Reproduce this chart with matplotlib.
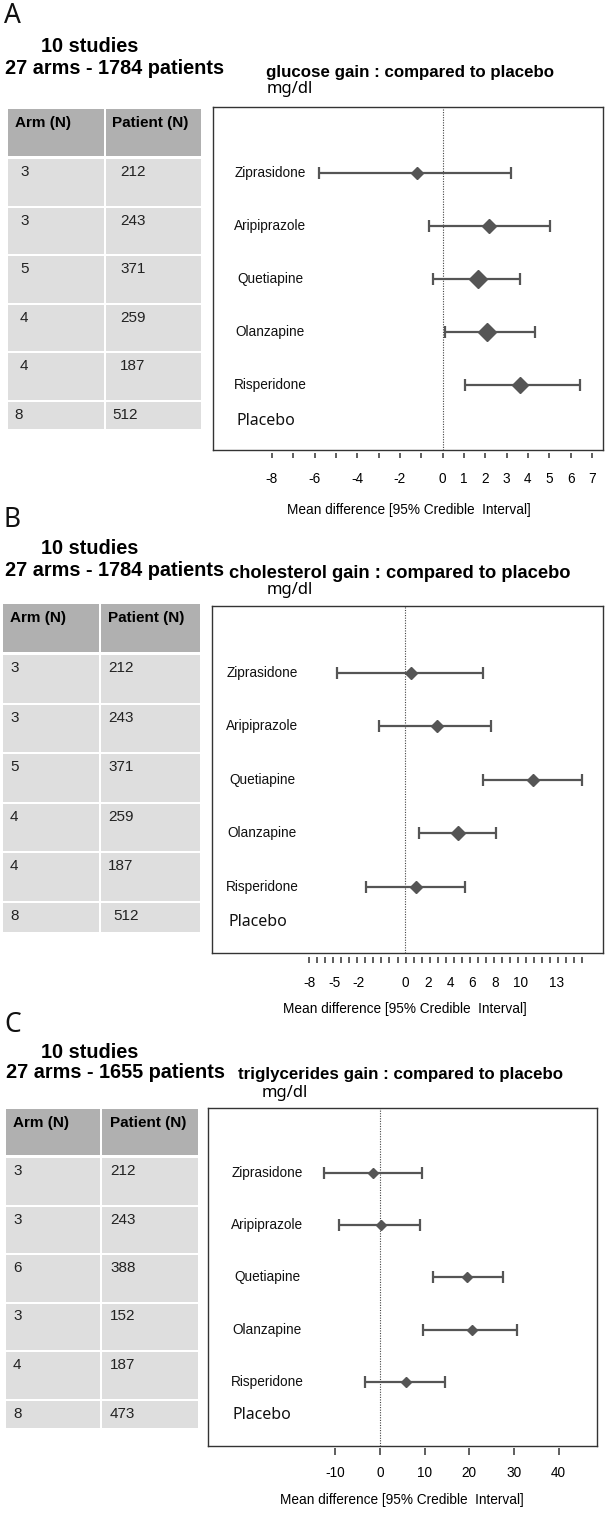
import matplotlib
matplotlib.use("Agg")
import matplotlib.pyplot as plt
import matplotlib.transforms as mtransforms
from matplotlib.patches import Rectangle
import numpy as np

plt.rcParams['font.family'] = ['Liberation Sans', 'DejaVu Sans']

# ---------------- data ----------------
drugs = ["Ziprasidone", "Aripiprazole", "Quetiapine", "Olanzapine", "Risperidone"]
reference = "Placebo"
table_headers = ["Arm (N)", "Patient (N)"]
xlabel_text = "Mean difference [95% Credible  Interval]"
unit_text = "mg/dl"

# Panel A : glucose
glucose_mean = [-1.2, 2.2, 1.65, 2.1, 3.65]
glucose_lo = [-5.8, -0.65, -0.45, 0.12, 1.05]
glucose_hi = [3.2, 5.05, 3.65, 4.35, 6.45]
glucose_arms = [3, 3, 5, 4, 4, 8]
glucose_patients = [212, 243, 371, 259, 187, 512]
glucose_studies = "10 studies"
glucose_summary = "27 arms - 1784 patients"
glucose_title = "glucose gain : compared to placebo"
glucose_ticklabels = ["-8", "-6", "-4", "-2", "0", "1", "2", "3", "4", "5", "6", "7"]
glucose_tickvals = [-8, -6, -4, -2, 0, 1, 2, 3, 4, 5, 6, 7]

# Panel B : cholesterol
chol_mean = [0.45, 2.85, 11.4, 4.7, 0.95]
chol_lo = [-6.1, -2.35, 6.95, 1.25, -3.5]
chol_hi = [6.95, 7.7, 15.8, 8.1, 5.3]
chol_arms = [3, 3, 5, 4, 4, 8]
chol_patients = [212, 243, 371, 259, 187, 512]
chol_studies = "10 studies"
chol_summary = "27 arms - 1784 patients"
chol_title = "cholesterol gain : compared to placebo"
chol_ticklabels = ["-8", "-5", "-2", "0", "2", "4", "6", "8", "10", "13"]
chol_tickvals = [-8.64, -6.4, -4.18, 0, 2, 4, 6, 8, 10.3, 13.5]

# Panel C : triglycerides
trig_mean = [-1.5, 0.15, 19.6, 20.6, 5.8]
trig_lo = [-12.5, -9.1, 11.9, 9.7, -3.4]
trig_hi = [9.4, 8.95, 27.5, 30.7, 14.5]
trig_arms = [3, 3, 6, 3, 4, 8]
trig_patients = [212, 243, 388, 152, 187, 473]
trig_studies = "10 studies"
trig_summary = "27 arms - 1655 patients"
trig_title = "triglycerides gain : compared to placebo"
trig_ticklabels = ["-10", "0", "10", "20", "30", "40"]
trig_tickvals = [-10, 0, 10, 20, 30, 40]

# ---------------- layout / style ----------------
W, H = 605, 1515
DARK = "#555555"
HEAD_COL = "#b0b0b0"
CELL_COL = "#dedede"

panels = [
    dict(letter="A", mean=glucose_mean, lo=glucose_lo, hi=glucose_hi,
         arms=glucose_arms, patients=glucose_patients,
         studies=glucose_studies, summary=glucose_summary, title=glucose_title,
         tickvals=glucose_tickvals, ticklabels=glucose_ticklabels,
         minor=np.arange(-8, 8), xlim=(-10.76, 7.52),
         box=(213, 107, 603, 450), ms=[5.9, 7.6, 8.8, 8.8, 7.8],
         lab_x=0.146, plac_x=0.059, plac_y=5.68, title_fs=12.2,
         tick_off=3, tick_len=5, tick_pad=10,
         letter_xy=(4, 16), studies_xy=(90, 47), summary_xy=(115, 68),
         title_xy=(410, 73), unit_xy=(290, 89), xlabel_xy=(409, 510),
         tab=dict(left=8, split=105, right=201, htop=109, hbot=156, r0=159,
                  pitch=48.6, rh=46.5, lasth=27, ins=(12, 15), last_ins=(6, 7),
                  hins=(7, 7))),
    dict(letter="B", mean=chol_mean, lo=chol_lo, hi=chol_hi,
         arms=chol_arms, patients=chol_patients,
         studies=chol_studies, summary=chol_summary, title=chol_title,
         tickvals=chol_tickvals, ticklabels=chol_ticklabels,
         minor=np.linspace(-8.64, 15.86, 35), xlim=(-17.34, 17.70),
         box=(212, 606, 603, 953), ms=[6.0, 6.0, 6.6, 7.1, 6.0],
         lab_x=0.128, plac_x=0.041, plac_y=5.65, title_fs=13.2,
         tick_off=4, tick_len=6, tick_pad=9,
         letter_xy=(4, 520), studies_xy=(90, 549), summary_xy=(115, 570),
         title_xy=(400, 573), unit_xy=(290, 590), xlabel_xy=(405, 1009),
         tab=dict(left=3, split=100, right=200, htop=604, hbot=652, r0=655,
                  pitch=49.6, rh=47.5, lasth=29, ins=(7, 8), last_ins=(7, 13),
                  hins=(7, 8))),
    dict(letter="C", mean=trig_mean, lo=trig_lo, hi=trig_hi,
         arms=trig_arms, patients=trig_patients,
         studies=trig_studies, summary=trig_summary, title=trig_title,
         tickvals=trig_tickvals, ticklabels=trig_ticklabels,
         minor=None, xlim=(-38.5, 48.6),
         box=(208, 1108, 597, 1446), ms=[5.2, 5.2, 5.2, 5.2, 5.2],
         lab_x=0.152, plac_x=0.063, plac_y=5.63, title_fs=12.2,
         tick_off=2, tick_len=7, tick_pad=8,
         letter_xy=(4, 1025), studies_xy=(90, 1053), summary_xy=(115, 1073),
         title_xy=(401, 1075), unit_xy=(285, 1093), xlabel_xy=(402, 1500),
         tab=dict(left=6, split=101, right=198, htop=1109, hbot=1155, r0=1158,
                  pitch=48.5, rh=46.5, lasth=27, ins=(7, 9), last_ins=(7, 9),
                  hins=(7, 9))),
]

fig = plt.figure(figsize=(W / 100, H / 100), dpi=100)
fig.patch.set_facecolor("white")

# overlay axes in pixel coordinates for tables and free text
ov = fig.add_axes([0, 0, 1, 1])
ov.set_xlim(0, W)
ov.set_ylim(H, 0)
ov.axis("off")

PX2PT = 72 / 100.0

for p in panels:
    # ---------- header texts ----------
    ov.text(*p["letter_xy"], p["letter"], fontsize=19, family=["Noto Sans", "DejaVu Sans"],
            ha="left", va="center", color="#111111")
    ov.text(*p["studies_xy"], p["studies"], fontsize=14.3, fontweight="bold",
            ha="center", va="center")
    ov.text(*p["summary_xy"], p["summary"], fontsize=14.3, fontweight="bold",
            ha="center", va="center")
    ov.text(*p["title_xy"], p["title"], fontsize=p["title_fs"], fontweight="bold",
            ha="center", va="center")
    ov.text(*p["unit_xy"], unit_text, fontsize=12, family=["Noto Sans", "DejaVu Sans"],
            ha="center", va="center")
    ov.text(*p["xlabel_xy"], xlabel_text, fontsize=9.8, ha="center", va="center")

    # ---------- table ----------
    t = p["tab"]
    gap = 1.5
    ov.add_patch(Rectangle((t["left"], t["htop"]), t["split"] - t["left"] - gap / 2,
                           t["hbot"] - t["htop"], facecolor=HEAD_COL, edgecolor="none"))
    ov.add_patch(Rectangle((t["split"] + gap / 2, t["htop"]), t["right"] - t["split"] - gap / 2,
                           t["hbot"] - t["htop"], facecolor=HEAD_COL, edgecolor="none"))
    ov.text(t["left"] + t["hins"][0], t["htop"] + 14, table_headers[0], fontsize=11,
            fontweight="bold", ha="left", va="center")
    ov.text(t["split"] + t["hins"][1], t["htop"] + 14, table_headers[1], fontsize=11,
            fontweight="bold", ha="left", va="center")
    nrows = len(p["arms"])
    for r in range(nrows):
        top = t["r0"] + r * t["pitch"]
        last = (r == nrows - 1)
        h = t["lasth"] if last else t["rh"]
        ins = t["last_ins"] if last else t["ins"]
        ov.add_patch(Rectangle((t["left"], top), t["split"] - t["left"] - gap / 2, h,
                               facecolor=CELL_COL, edgecolor="none"))
        ov.add_patch(Rectangle((t["split"] + gap / 2, top), t["right"] - t["split"] - gap / 2, h,
                               facecolor=CELL_COL, edgecolor="none"))
        ov.text(t["left"] + ins[0], top + 13, str(p["arms"][r]), fontsize=11,
                ha="left", va="center", color="#222222")
        ov.text(t["split"] + ins[1], top + 13, str(p["patients"][r]), fontsize=11,
                ha="left", va="center", color="#222222")

    # ---------- forest axes ----------
    x0, y0, x1, y1 = p["box"]
    ax = fig.add_axes([x0 / W, 1 - y1 / H, (x1 - x0) / W, (y1 - y0) / H])
    ax.set_facecolor("none")
    ax.set_xlim(*p["xlim"])
    ax.set_ylim(6.23, -0.245)
    for s in ax.spines.values():
        s.set_color("#333333")
        s.set_linewidth(1.0)
    ax.set_xticks([])
    ax.set_yticks([])

    ax.axvline(0, color="#444444", lw=0.8, ls=(0, (1, 1.3)))

    rows = np.arange(1, len(drugs) + 1)
    mean = np.array(p["mean"])
    lo = np.array(p["lo"])
    hi = np.array(p["hi"])
    ax.errorbar(mean, rows, xerr=[mean - lo, hi - mean], fmt="none", ecolor=DARK,
                elinewidth=1.6, capsize=4.3, capthick=1.6)
    for i in range(len(drugs)):
        ax.plot(mean[i], rows[i], marker="D", ms=p["ms"][i],
                color=DARK, mec=DARK, ls="none")

    tr = mtransforms.blended_transform_factory(ax.transAxes, ax.transData)
    for i, d in enumerate(drugs):
        ax.text(p["lab_x"], rows[i], d, transform=tr, ha="center", va="center",
                fontsize=9.8, color="#111111")
    ax.text(p["plac_x"], p["plac_y"], reference, transform=tr, ha="left", va="center",
            fontsize=11.5, family=["Noto Sans", "DejaVu Sans"], color="#111111")

    # tick axis detached below the box
    loc = -p["tick_off"] / (y1 - y0)
    sec = ax.secondary_xaxis(loc)
    sec.spines["bottom"].set_visible(False)
    sec.xaxis.remove_overlapping_locs = False
    sec.set_xticks(p["tickvals"], p["ticklabels"])
    if p["minor"] is not None:
        sec.set_xticks(p["minor"], minor=True)
        sec.tick_params(axis="x", which="major", length=0, pad=p["tick_pad"] + p["tick_len"] * PX2PT,
                        labelsize=9.8)
        sec.tick_params(axis="x", which="minor", length=p["tick_len"] * PX2PT, width=1.1,
                        color="#333333")
    else:
        sec.tick_params(axis="x", which="major", length=p["tick_len"] * PX2PT, width=1.1,
                        color="#333333", pad=p["tick_pad"], labelsize=9.8)

fig.savefig("out.png", dpi=100, facecolor="white")
